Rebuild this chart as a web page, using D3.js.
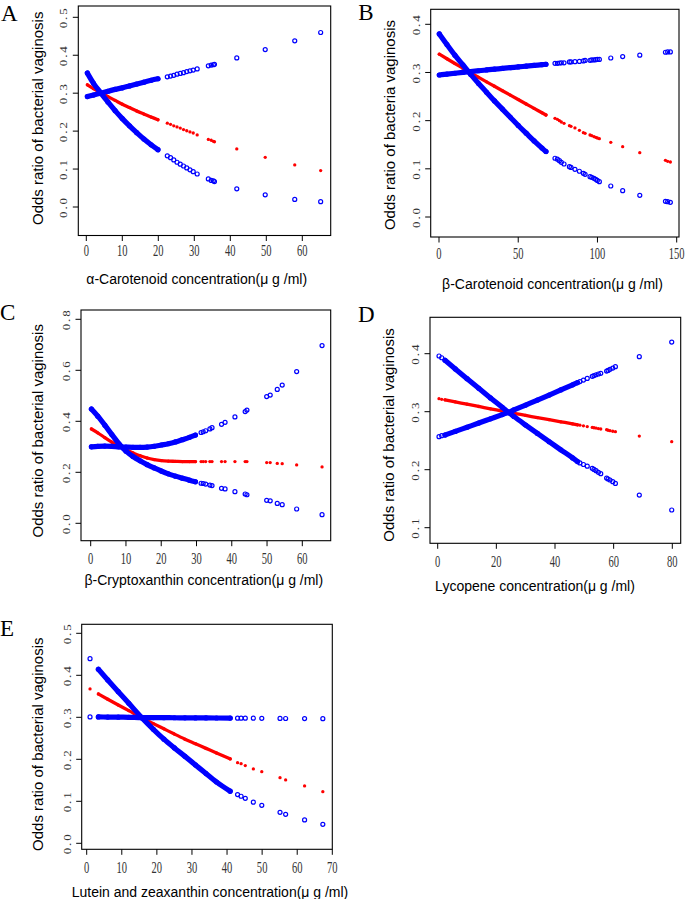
<!DOCTYPE html>
<html><head><meta charset="utf-8">
<script src="https://cdn.jsdelivr.net/npm/d3@7"></script>
<style>body{margin:0;background:#fff}svg{display:block}</style>
</head><body>
<svg id="c" width="685" height="899"></svg>
<script>
// ---------- DATA ----------
// Panel A: alpha-carotenoid
const aX   = [0.3, 2, 4, 6, 8, 10, 12, 14, 16, 18, 19.9, 22.5, 23.4, 24.3, 25.2, 26.1, 27.0, 27.9, 28.8, 29.7, 30.8, 33.9, 34.7, 35.3, 35.6, 41.8, 49.7, 57.9, 65.1];
const aLow = [0.353, 0.326, 0.301, 0.277, 0.254, 0.233, 0.214, 0.196, 0.179, 0.164, 0.151, 0.135, 0.130, 0.124, 0.118, 0.113, 0.108, 0.103, 0.098, 0.093, 0.087, 0.074, 0.070, 0.069, 0.067, 0.048, 0.032, 0.020, 0.014];
const aEst = [0.322, 0.312, 0.301, 0.291, 0.281, 0.271, 0.262, 0.253, 0.245, 0.237, 0.230, 0.221, 0.218, 0.214, 0.211, 0.208, 0.204, 0.201, 0.198, 0.195, 0.190, 0.178, 0.176, 0.173, 0.172, 0.153, 0.131, 0.111, 0.096];
const aUp  = [0.291, 0.295, 0.300, 0.305, 0.310, 0.314, 0.319, 0.324, 0.329, 0.334, 0.338, 0.343, 0.345, 0.347, 0.350, 0.352, 0.354, 0.357, 0.359, 0.361, 0.364, 0.372, 0.374, 0.375, 0.376, 0.393, 0.415, 0.438, 0.460];
const aDense = [0.3, 19.9];
const aXTicks = [0, 10, 20, 30, 40, 50, 60];
const aYTicks = [0, 0.1, 0.2, 0.3, 0.4, 0.5];

// Panel B: beta-carotenoid
const bX   = [0.2, 5, 10, 15, 20, 25, 30, 35, 40, 45, 50, 55, 60, 65, 67.5, 73.2, 74.7, 76.0, 77.2, 78.9, 82.3, 83.3, 85.8, 88.6, 91.1, 92.2, 95.3, 96.4, 97.8, 98.9, 99.9, 101.2, 108.4, 115.9, 126.7, 142.9, 144.3, 146.0];
const bLow = [0.380, 0.358, 0.336, 0.316, 0.296, 0.277, 0.259, 0.241, 0.224, 0.207, 0.190, 0.174, 0.158, 0.143, 0.136, 0.122, 0.120, 0.117, 0.1135, 0.110, 0.1045, 0.103, 0.099, 0.095, 0.0906, 0.0886, 0.0837, 0.0824, 0.0803, 0.0782, 0.0760, 0.0734, 0.0644, 0.0547, 0.045, 0.0325, 0.0318, 0.0304];
const bEst = [0.338, 0.3285, 0.3187, 0.309, 0.2992, 0.2898, 0.2806, 0.2714, 0.2622, 0.253, 0.2438, 0.2346, 0.2254, 0.2163, 0.2117, 0.2048, 0.2028, 0.200, 0.1972, 0.1945, 0.1896, 0.1882, 0.1848, 0.1799, 0.1751, 0.1737, 0.1702, 0.1689, 0.1668, 0.1654, 0.164, 0.1626, 0.155, 0.146, 0.1336, 0.1176, 0.1156, 0.1142];
const bUp  = [0.2948, 0.2966, 0.2984, 0.3002, 0.302, 0.3036, 0.3052, 0.3068, 0.3084, 0.310, 0.3115, 0.3131, 0.3147, 0.3162, 0.317, 0.319, 0.319, 0.3197, 0.320, 0.320, 0.322, 0.322, 0.3225, 0.323, 0.324, 0.325, 0.3253, 0.326, 0.326, 0.3266, 0.327, 0.327, 0.330, 0.333, 0.336, 0.342, 0.3426, 0.3426];
const bDense = [0.2, 67.5];
const bXTicks = [0, 50, 100, 150];
const bYTicks = [0, 0.1, 0.2, 0.3, 0.4];

// Panel C: beta-cryptoxanthin
const cX   = [0.2, 2, 4, 6, 8, 10, 12, 14, 16, 18, 20, 22, 24, 26, 28, 29.7, 31.3, 31.9, 32.6, 33.8, 34.4, 37.1, 38.1, 40.9, 43.8, 44.3, 49.9, 50.9, 52.9, 54.3, 58.4, 65.6];
const cLow = [0.448, 0.420, 0.385, 0.348, 0.312, 0.283, 0.262, 0.245, 0.230, 0.217, 0.205, 0.194, 0.185, 0.177, 0.169, 0.163, 0.157, 0.156, 0.154, 0.150, 0.148, 0.137, 0.135, 0.124, 0.115, 0.112, 0.090, 0.088, 0.078, 0.073, 0.056, 0.034];
const cEst = [0.370, 0.355, 0.336, 0.318, 0.302, 0.288, 0.276, 0.265, 0.256, 0.250, 0.246, 0.244, 0.243, 0.242, 0.242, 0.242, 0.242, 0.242, 0.242, 0.242, 0.242, 0.242, 0.242, 0.242, 0.242, 0.242, 0.238, 0.238, 0.235, 0.234, 0.229, 0.221];
const cUp  = [0.300, 0.302, 0.303, 0.302, 0.300, 0.299, 0.298, 0.298, 0.299, 0.302, 0.307, 0.312, 0.319, 0.328, 0.337, 0.346, 0.356, 0.359, 0.363, 0.370, 0.375, 0.388, 0.396, 0.417, 0.438, 0.444, 0.497, 0.503, 0.525, 0.542, 0.595, 0.697];
const cDense = [0.2, 29.7];
const cXTicks = [0, 10, 20, 30, 40, 50, 60];
const cYTicks = [0, 0.2, 0.4, 0.6, 0.8];

// Panel D: lycopene
const dX   = [0.45, 1.36, 2.5, 6, 10, 14, 18, 22, 24.1, 26, 30, 34, 38, 42, 46, 47.7, 48.5, 49.7, 51, 52.7, 53.3, 54, 54.8, 55.6, 57.6, 58.1, 58.75, 59.7, 60.6, 68.75, 79.8];
const dLow = [0.396, 0.393, 0.3885, 0.3738, 0.357, 0.3403, 0.3238, 0.3075, 0.2989, 0.2917, 0.277, 0.2625, 0.2482, 0.2342, 0.2203, 0.214, 0.2116, 0.209, 0.206, 0.2023, 0.2005, 0.1983, 0.1954, 0.1931, 0.1856, 0.184, 0.1822, 0.1793, 0.1764, 0.1563, 0.1305];
const dEst = [0.3224, 0.3213, 0.3204, 0.3169, 0.313, 0.309, 0.305, 0.301, 0.2989, 0.2972, 0.2935, 0.2899, 0.2862, 0.2826, 0.279, 0.2774, 0.2767, 0.2756, 0.2744, 0.2729, 0.2723, 0.2717, 0.2709, 0.2702, 0.269, 0.268, 0.2672, 0.2663, 0.2655, 0.258, 0.2483];
const dUp  = [0.2569, 0.2586, 0.2598, 0.266, 0.2732, 0.2804, 0.2877, 0.295, 0.2989, 0.303, 0.3115, 0.320, 0.3287, 0.3375, 0.3464, 0.3502, 0.3519, 0.3546, 0.3574, 0.361, 0.3623, 0.3637, 0.365, 0.3662, 0.370, 0.3712, 0.373, 0.3753, 0.3776, 0.3948, 0.4201];
const dDense = [2.5, 47.7];
const dXTicks = [0, 20, 40, 60, 80];
const dYTicks = [0.1, 0.2, 0.3, 0.4];

// Panel E: lutein and zeaxanthin
const eX   = [0.95, 3.33, 6, 9, 12, 15.7, 19, 22, 25, 28, 31, 34, 37, 40.9, 43.0, 44.0, 45.2, 47.5, 49.9, 55.1, 56.7, 62.1, 67.3];
const eLow = [0.4397, 0.4143, 0.389, 0.361, 0.3335, 0.2992, 0.2715, 0.248, 0.227, 0.207, 0.1865, 0.166, 0.146, 0.124, 0.116, 0.112, 0.107, 0.098, 0.0905, 0.0738, 0.069, 0.0556, 0.0452];
const eEst = [0.3675, 0.3556, 0.343, 0.3292, 0.3158, 0.2992, 0.285, 0.2725, 0.260, 0.248, 0.237, 0.226, 0.215, 0.201, 0.192, 0.1897, 0.185, 0.177, 0.1706, 0.1563, 0.1508, 0.1365, 0.123];
const eUp  = [0.3008, 0.3008, 0.3006, 0.3003, 0.300, 0.2992, 0.2993, 0.2991, 0.2989, 0.2987, 0.2986, 0.2984, 0.2983, 0.2981, 0.298, 0.298, 0.298, 0.2978, 0.2976, 0.2973, 0.2972, 0.297, 0.2968];
const eDense = [3.33, 40.9];
const eXTicks = [0, 10, 20, 30, 40, 50, 60, 70];
const eYTicks = [0, 0.1, 0.2, 0.3, 0.4, 0.5];

const xTitles = ["α-Carotenoid concentration(μ g /ml)", "β-Carotenoid concentration(μ g /ml)", "β-Cryptoxanthin concentration(μ g /ml)", "Lycopene concentration(μ g /ml)", "Lutein and zeaxanthin concentration(μ g /ml)"];
const yTitles = ["Odds ratio of bacterial vaginosis", "Odds ratio of bacteria vaginosis", "Odds ratio of bacterial vaginosis", "Odds ratio of bacterial vaginosis", "Odds ratio of bacterial vaginosis"];
const letters = ["A", "B", "C", "D", "E"];

// ---------- LAYOUT ----------
const panels = [
  {x:aX, lo:aLow, est:aEst, up:aUp, dense:aDense, xt:aXTicks, yt:aYTicks,
   box:{l:78.3, t:6, r:330.7, b:235.5}, xr:[0,60,86.3,302.3], yr:[0,0.5,207,17.3],
   xlabOff:14.5, xTitle:[196.7,284], yTitle:[43.3,118.3], letter:[1,20.7]},
  {x:bX, lo:bLow, est:bEst, up:bUp, dense:bDense, xt:bXTicks, yt:bYTicks,
   box:{l:430.7, t:9.3, r:679, b:237}, xr:[0,150,439,676.7], yr:[0,0.4,217,24.3],
   xlabOff:16, xTitle:[552.5,289.3], yTitle:[395,125], letter:[358.3,20]},
  {x:cX, lo:cLow, est:cEst, up:cUp, dense:cDense, xt:cXTicks, yt:cYTicks,
   box:{l:81, t:310, r:330.7, b:540.7}, xr:[0,60,90.7,302.3], yr:[0,0.8,523.3,319.3],
   xlabOff:17, xTitle:[203.8,585.3], yTitle:[43.3,430.8], letter:[0,320]},
  {x:dX, lo:dLow, est:dEst, up:dUp, dense:dDense, xt:dXTicks, yt:dYTicks,
   box:{l:430, t:317.3, r:680.7, b:543.3}, xr:[0,80,437.7,672.3], yr:[0.1,0.4,527.7,353.7],
   xlabOff:18, xTitle:[535,591], yTitle:[394.3,435], letter:[358,321.7]},
  {x:eX, lo:eLow, est:eEst, up:eUp, dense:eDense, xt:eXTicks, yt:eYTicks,
   box:{l:81.7, t:624.3, r:332.3, b:849.3}, xr:[0,70,86.7,332.3], yr:[0,0.5,843.3,633.3],
   xlabOff:17.4, xTitle:[210,896.7], yTitle:[43.3,744.2], letter:[0,635.7]}
];

const svg = d3.select("#c");
const BLUE = "#0000ff", RED = "#ff0000";
const fmtY = d3.format(".1f");

panels.forEach((p, pi) => {
  const g = svg.append("g");
  const x = d3.scaleLinear().domain([p.xr[0], p.xr[1]]).range([p.xr[2], p.xr[3]]);
  const y = d3.scaleLinear().domain([p.yr[0], p.yr[1]]).range([p.yr[2], p.yr[3]]);
  const b = p.box;

  // box
  g.append("rect").attr("x", b.l).attr("y", b.t).attr("width", b.r - b.l).attr("height", b.b - b.t)
    .attr("fill", "none").attr("stroke", "#000").attr("stroke-width", 1.1);

  // y ticks + labels
  p.yt.forEach(v => {
    g.append("line").attr("x1", b.l - 5.5).attr("x2", b.l).attr("y1", y(v)).attr("y2", y(v))
      .attr("stroke", "#000").attr("stroke-width", 1);
    g.append("text")
      .attr("transform", `translate(${b.l - 14.5},${y(v)}) rotate(-90) scale(1.3,1)`)
      .attr("text-anchor", "middle").attr("y", 3.5)
      .attr("font-family", "Liberation Serif, serif").attr("font-size", 10)
      .style("letter-spacing", "1.5px").attr("fill", "#333")
      .text(fmtY(v));
  });
  // x ticks + labels
  p.xt.forEach(v => {
    g.append("line").attr("x1", x(v)).attr("x2", x(v)).attr("y1", b.b).attr("y2", b.b + 5.5)
      .attr("stroke", "#000").attr("stroke-width", 1);
    g.append("text")
      .attr("transform", `translate(${x(v)},${b.b + p.xlabOff}) scale(0.62,1)`)
      .attr("text-anchor", "middle").attr("y", 5.8)
      .attr("font-family", "Liberation Serif, serif").attr("font-size", 17)
      .attr("fill", "#333")
      .text(v);
  });

  // titles
  g.append("text").attr("x", p.xTitle[0]).attr("y", p.xTitle[1]).attr("text-anchor", "middle")
    .attr("font-family", "Liberation Sans, Arial, sans-serif").attr("font-size", 14).attr("fill", "#000")
    .text(xTitles[pi]);
  g.append("text").attr("transform", `translate(${p.yTitle[0]},${p.yTitle[1]}) rotate(-90)`)
    .attr("text-anchor", "middle")
    .attr("font-family", "Liberation Sans, Arial, sans-serif").attr("font-size", 15).attr("fill", "#000")
    .text(yTitles[pi]);
  g.append("text").attr("x", p.letter[0]).attr("y", p.letter[1])
    .attr("font-family", "Liberation Serif, serif").attr("font-size", 23).attr("fill", "#000")
    .text(letters[pi]);

  // data
  const pts = p.x.map((xv, i) => ({x: xv, lo: p.lo[i], est: p.est[i], up: p.up[i]}));
  const dense = pts.filter(d => d.x >= p.dense[0] && d.x <= p.dense[1]);
  const lineFor = k => d3.line().x(d => x(d.x)).y(d => y(d[k])).curve(d3.curveMonotoneX);

  // red estimate
  g.append("path").datum(dense).attr("d", lineFor("est")).attr("fill", "none")
    .attr("stroke", RED).attr("stroke-width", 3.3).attr("stroke-linecap", "round");
  g.selectAll(null).data(pts).enter().append("circle")
    .attr("cx", d => x(d.x)).attr("cy", d => y(d.est)).attr("r", 1.65).attr("fill", RED);

  // blue CIs
  ["up", "lo"].forEach(k => {
    g.append("path").datum(dense).attr("d", lineFor(k)).attr("fill", "none")
      .attr("stroke", BLUE).attr("stroke-width", 5.2).attr("stroke-linecap", "round");
    g.selectAll(null).data(pts).enter().append("circle")
      .attr("cx", d => x(d.x)).attr("cy", d => y(d[k])).attr("r", 2)
      .attr("fill", "none").attr("stroke", BLUE).attr("stroke-width", 1.2);
  });
});
</script>
</body></html>
